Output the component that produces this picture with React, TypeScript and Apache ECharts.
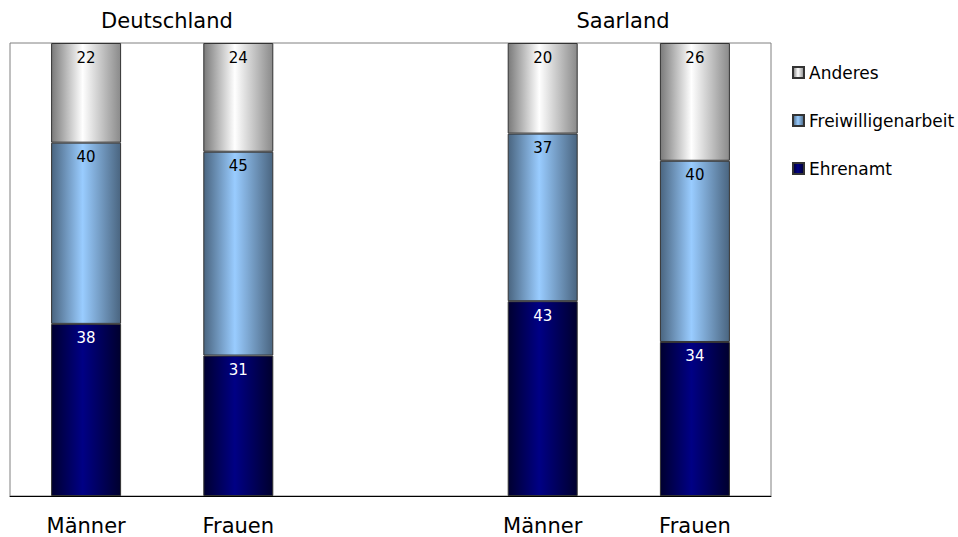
import React, { useEffect, useRef } from "react";
import * as echarts from "echarts";

const categoryKeys = ["de-m", "de-f", "gap", "sl-m", "sl-f"];
const tickLabels = ["Männer", "Frauen", "", "Männer", "Frauen"];
const groupTitles = ["Deutschland", "Saarland"];
const seriesNames = ["Ehrenamt", "Freiwilligenarbeit", "Anderes"];
const ehrenamt = [38, 31, null, 43, 34];
const freiwilligenarbeit = [40, 45, null, 37, 40];
const anderes = [22, 24, null, 20, 26];

const FONT = "DejaVu Sans";

function grad(edgeL: string, mid: string, edgeR: string) {
  return new echarts.graphic.LinearGradient(0, 0, 1, 0, [
    { offset: 0, color: edgeL },
    { offset: 0.45, color: mid },
    { offset: 1, color: edgeR },
  ]);
}

export default function App() {
  const ref = useRef<HTMLDivElement>(null);
  useEffect(() => {
    if (!ref.current) return;
    const chart = echarts.init(ref.current, null, { renderer: "svg" });
    const mk = (name: string, data: (number | null)[], color: any, labelColor: string) => ({
      name,
      type: "bar",
      stack: "total",
      barWidth: 70,
      data,
      itemStyle: { color, borderColor: "#333333", borderWidth: 1 },
      label: {
        show: true,
        position: "insideTop",
        distance: 7,
        color: labelColor,
        fontFamily: FONT,
        fontSize: 15,
      },
    });
    chart.setOption({
      animation: false,
      backgroundColor: "#ffffff",
      title: [
        {
          text: groupTitles[0],
          left: 162,
          top: 5,
          textAlign: "center",
          textStyle: { fontFamily: FONT, fontSize: 21, fontWeight: "normal", color: "#000" },
        },
        {
          text: groupTitles[1],
          left: 618,
          top: 5,
          textAlign: "center",
          textStyle: { fontFamily: FONT, fontSize: 21, fontWeight: "normal", color: "#000" },
        },
      ],
      legend: {
        data: ["Anderes", "Freiwilligenarbeit", "Ehrenamt"],
        orient: "vertical",
        left: 787,
        top: 59,
        itemWidth: 11,
        itemHeight: 11,
        itemGap: 31,
        icon: "rect",
        textStyle: { fontFamily: FONT, fontSize: 17, color: "#000" },
      },
      grid: {
        left: 10,
        right: 187,
        top: 43,
        bottom: 41,
        show: true,
        borderColor: "#808080",
        borderWidth: 1,
        containLabel: false,
      },
      xAxis: {
        type: "category",
        data: categoryKeys,
        axisLine: { show: true, lineStyle: { color: "#000", width: 1 } },
        axisTick: { show: false },
        axisLabel: {
          formatter: (_v: string, i: number) => tickLabels[i],
          fontFamily: FONT,
          fontSize: 21,
          color: "#000",
          margin: 19,
        },
      },
      yAxis: {
        type: "value",
        min: 0,
        max: 100,
        show: false,
        splitLine: { show: false },
      },
      series: [
        mk(seriesNames[0], ehrenamt, grad("#000030", "#000085", "#00002e"), "#ffffff"),
        mk(seriesNames[1], freiwilligenarbeit, grad("#4a6580", "#99ccff", "#4a6580"), "#000000"),
        mk(seriesNames[2], anderes, grad("#7a7a7a", "#ffffff", "#8a8a8a"), "#000000"),
      ],
    });
    return () => chart.dispose();
  }, []);
  return (
    <div
      ref={ref}
      style={{ position: "fixed", left: 0, top: 0, width: 958, height: 537 }}
    />
  );
}
